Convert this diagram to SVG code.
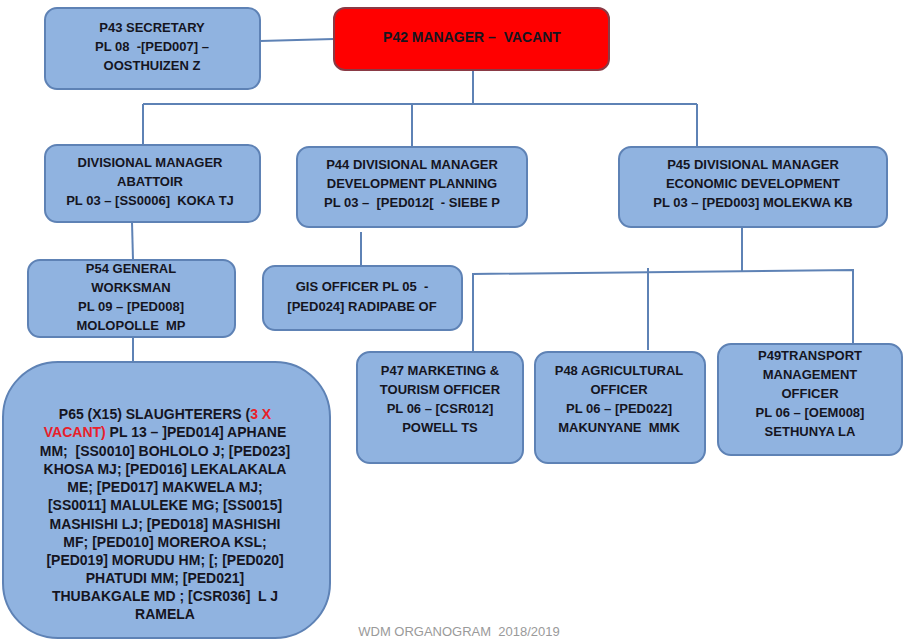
<svg xmlns="http://www.w3.org/2000/svg" width="904" height="642" viewBox="0 0 904 642">
  <style>
    .box { fill: #90b3e0; stroke: #5e82b5; stroke-width: 2; }
    .boss { fill: #ff0000; stroke: #8a3a45; stroke-width: 2; }
    .lbl { font-family: "Liberation Sans", Arial, sans-serif; font-weight: bold; font-size: 13px; fill: #15151f; text-anchor: middle; white-space: pre; }
    .big { font-size: 14px; }
    .red { fill: #e8202a; }
    .wire { stroke: #5e82b5; stroke-width: 2; fill: none; }
    .foot { font-family: "Liberation Sans", Arial, sans-serif; font-size: 13px; fill: #9a9a9a; text-anchor: middle; white-space: pre; }
  </style>
  <rect width="904" height="642" fill="#ffffff"/>

  <!-- connectors -->
  <g id="connectors" class="wire">
    <path d="M260 41 L334 39"/>
    <path d="M473 70 V104"/>
    <path d="M143 104 H697"/>
    <path d="M143 104 V145"/>
    <path d="M412 104 V147"/>
    <path d="M697 104 V147"/>
    <path d="M132 222 L133 260"/>
    <path d="M361 232 V266"/>
    <path d="M133 337 V362"/>
    <path d="M742 227 V272"/>
    <path d="M473 352 V274 L853 270 V344"/>
    <path d="M648 268 V350"/>
  </g>

  <!-- P42 manager -->
  <g id="p42">
    <rect class="boss" x="334" y="8" width="275" height="62" rx="11"/>
    <text class="lbl big" x="472" y="42">P42 MANAGER –  VACANT</text>
  </g>

  <!-- P43 secretary -->
  <g id="p43">
    <rect class="box" x="45" y="8" width="215" height="81" rx="12"/>
    <text class="lbl" x="152" y="32">P43 SECRETARY</text>
    <text class="lbl" x="152" y="51">PL 08  -[PED007] –</text>
    <text class="lbl" x="152" y="70">OOSTHUIZEN Z</text>
  </g>

  <!-- Divisional manager abattoir -->
  <g id="abattoir">
    <rect class="box" x="45" y="145" width="215" height="77" rx="12"/>
    <text class="lbl" x="150" y="167">DIVISIONAL MANAGER</text>
    <text class="lbl" x="150" y="186">ABATTOIR</text>
    <text class="lbl" x="150" y="205">PL 03 – [SS0006]  KOKA TJ</text>
  </g>

  <!-- P44 -->
  <g id="p44">
    <rect class="box" x="297" y="147" width="230" height="80" rx="12"/>
    <text class="lbl" x="412" y="169">P44 DIVISIONAL MANAGER</text>
    <text class="lbl" x="412" y="188">DEVELOPMENT PLANNING</text>
    <text class="lbl" x="412" y="207">PL 03 –  [PED012[  - SIEBE P</text>
  </g>

  <!-- P45 -->
  <g id="p45">
    <rect class="box" x="619" y="147" width="268" height="80" rx="12"/>
    <text class="lbl" x="753" y="169">P45 DIVISIONAL MANAGER</text>
    <text class="lbl" x="753" y="188">ECONOMIC DEVELOPMENT</text>
    <text class="lbl" x="753" y="207">PL 03 – [PED003] MOLEKWA KB</text>
  </g>

  <!-- P54 -->
  <g id="p54">
    <rect class="box" x="28" y="260" width="207" height="77" rx="12"/>
    <text class="lbl" x="131" y="273">P54 GENERAL</text>
    <text class="lbl" x="131" y="292">WORKSMAN</text>
    <text class="lbl" x="131" y="311">PL 09 – [PED008]</text>
    <text class="lbl" x="131" y="330">MOLOPOLLE  MP</text>
  </g>

  <!-- GIS officer -->
  <g id="gis">
    <rect class="box" x="263" y="266" width="199" height="64" rx="12"/>
    <text class="lbl" x="362" y="291">GIS OFFICER PL 05  -</text>
    <text class="lbl" x="362" y="311">[PED024] RADIPABE OF</text>
  </g>

  <!-- P65 slaughterers -->
  <g id="p65">
    <rect class="box" x="3" y="362" width="327" height="276" rx="55"/>
    <text class="lbl big" x="165" y="419">P65 (X15) SLAUGHTERERS (<tspan class="red">3 X</tspan></text>
    <text class="lbl big" x="165" y="437"><tspan class="red">VACANT)</tspan> PL 13 – ]PED014] APHANE</text>
    <text class="lbl big" x="165" y="456">MM;  [SS0010] BOHLOLO J; [PED023]</text>
    <text class="lbl big" x="165" y="474">KHOSA MJ; [PED016] LEKALAKALA</text>
    <text class="lbl big" x="165" y="492">ME; [PED017] MAKWELA MJ;</text>
    <text class="lbl big" x="165" y="510">[SS0011] MALULEKE MG; [SS0015]</text>
    <text class="lbl big" x="165" y="529">MASHISHI LJ; [PED018] MASHISHI</text>
    <text class="lbl big" x="165" y="547">MF; [PED010] MOREROA KSL;</text>
    <text class="lbl big" x="165" y="565">[PED019] MORUDU HM; [; [PED020]</text>
    <text class="lbl big" x="165" y="583">PHATUDI MM; [PED021]</text>
    <text class="lbl big" x="165" y="601">THUBAKGALE MD ; [CSR036]  L J</text>
    <text class="lbl big" x="165" y="619">RAMELA</text>
  </g>

  <!-- P47 -->
  <g id="p47">
    <rect class="box" x="357" y="352" width="166" height="111" rx="13"/>
    <text class="lbl" x="440" y="375">P47 MARKETING &amp;</text>
    <text class="lbl" x="440" y="394">TOURISM OFFICER</text>
    <text class="lbl" x="440" y="413">PL 06 – [CSR012]</text>
    <text class="lbl" x="440" y="432">POWELL TS</text>
  </g>

  <!-- P48 -->
  <g id="p48">
    <rect class="box" x="535" y="352" width="170" height="111" rx="13"/>
    <text class="lbl" x="619" y="375">P48 AGRICULTURAL</text>
    <text class="lbl" x="619" y="394">OFFICER</text>
    <text class="lbl" x="619" y="413">PL 06 – [PED022]</text>
    <text class="lbl" x="619" y="432">MAKUNYANE  MMK</text>
  </g>

  <!-- P49 -->
  <g id="p49">
    <rect class="box" x="718" y="344" width="184" height="111" rx="13"/>
    <text class="lbl" x="810" y="360">P49TRANSPORT</text>
    <text class="lbl" x="810" y="379">MANAGEMENT</text>
    <text class="lbl" x="810" y="398">OFFICER</text>
    <text class="lbl" x="810" y="417">PL 06 – [OEM008]</text>
    <text class="lbl" x="810" y="436">SETHUNYA LA</text>
  </g>

  <text class="foot" x="459" y="636">WDM ORGANOGRAM  2018/2019</text>
</svg>
